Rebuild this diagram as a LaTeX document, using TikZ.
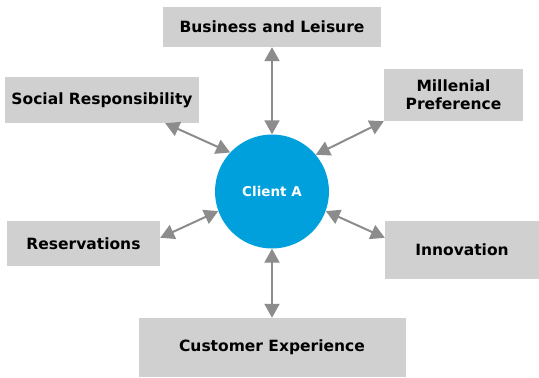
\documentclass[tikz,border=0pt]{standalone}
\usepackage{fontspec}
\setmainfont{DejaVu Sans}
\usepackage{xcolor}
\usetikzlibrary{arrows.meta, positioning}

\definecolor{boxgray}{HTML}{D0D0D0}
\definecolor{arrowgray}{HTML}{8C8C8C}
\definecolor{clientblue}{HTML}{00A0DD}

\begin{document}
\begin{tikzpicture}[
			x=1pt, y=-1pt,
			font=\bfseries\fontsize{15.5}{18}\selectfont,
			box/.style={
				fill=boxgray,
				align=center,
				inner sep=0pt
			},
			hub/.style={
				circle,
				fill=clientblue,
				text=white,
				minimum size=114pt,
				inner sep=0pt,
				font=\bfseries\fontsize{13.5}{15}\selectfont
			},
			arr/.style={{Triangle[length=14pt,width=15pt]}-{Triangle[length=14pt,width=15pt]}, line width=2pt, arrowgray}
			]
			
			\useasboundingbox (0,0) rectangle (539,378);
			
			% client in the middle
			\node[hub] (client) at (272,191.5) {Client A};
			
			% the six factors around it
			\node[box, minimum width=218pt, minimum height=40pt] (biz) at (272,27) {Business and Leisure};
			\node[box, minimum width=194pt, minimum height=46pt] (social) at (102,100) {Social Responsibility};
			\node[box, minimum width=139pt, minimum height=52pt] (mill) at (453.5,95) {Millenial\\Preference};
			\node[box, minimum width=153pt, minimum height=45pt] (res) at (83.5,243.5) {Reservations};
			\node[box, minimum width=154pt, minimum height=58pt] (innov) at (462,250) {Innovation};
			\node[box, minimum width=267pt, minimum height=59pt] (cust) at (272,347.5) {Customer Experience};
			
			\draw[arr] (biz.south) -- (client.north);
			\draw[arr] ([xshift=-34pt]social.south east) -- (client.137);
			\draw[arr] (mill.south west) -- (client.40);
			\draw[arr] ([yshift=-17pt]res.north east) -- (client.200);
			\draw[arr] ([yshift=-17pt]innov.north west) -- (client.340);
			\draw[arr] (client.south) -- (cust.north);
			
		\end{tikzpicture}
\end{document}
